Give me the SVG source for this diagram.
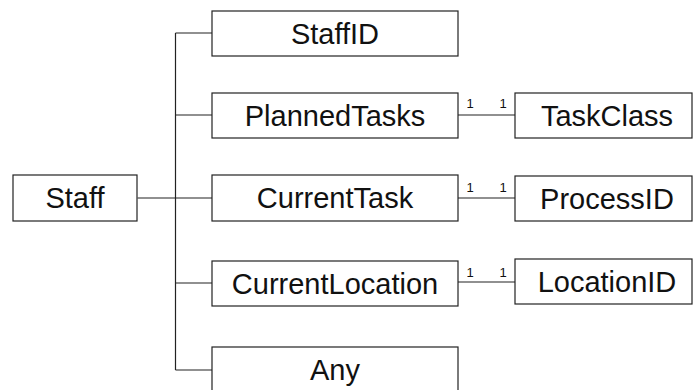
<svg xmlns="http://www.w3.org/2000/svg" width="693" height="390" viewBox="0 0 693 390">
<style>
.box{fill:#fff;stroke:#222;stroke-width:1.2}
.t{font-family:"Liberation Sans",Arial,sans-serif;font-size:29px;fill:#111;text-anchor:middle}
.m{font-family:"Liberation Sans",Arial,sans-serif;font-size:13px;fill:#111;text-anchor:middle}
.c{stroke:#222;stroke-width:1.2;fill:none}
</style>
<rect width="693" height="390" fill="#fff"/>
<g id="connectors">
<path class="c" d="M137.5 198H175.5M175.5 33V370M175.5 33H212M175.5 115H212M175.5 198H212M175.5 283H212M175.5 370H212"/>
<path class="c" d="M458 115H515M458 198H515M458 282H515"/>
<text class="m" x="470" y="108">1</text><text class="m" x="503" y="108">1</text>
<text class="m" x="470" y="192">1</text><text class="m" x="503" y="192">1</text>
<text class="m" x="470" y="277">1</text><text class="m" x="503" y="277">1</text>
</g>
<g id="staff"><rect class="box" x="13" y="175" width="124" height="46"/><text class="t" x="75" y="208">Staff</text></g>
<g id="staffid"><rect class="box" x="212" y="11" width="246" height="45"/><text class="t" x="335" y="44">StaffID</text></g>
<g id="plannedtasks"><rect class="box" x="212" y="93" width="246" height="45"/><text class="t" x="335" y="126">PlannedTasks</text></g>
<g id="currenttask"><rect class="box" x="212" y="175" width="246" height="46"/><text class="t" x="335" y="208">CurrentTask</text></g>
<g id="currentlocation"><rect class="box" x="212" y="261" width="246" height="45"/><text class="t" x="335" y="294">CurrentLocation</text></g>
<g id="any"><rect class="box" x="212" y="347" width="246" height="45"/><text class="t" x="335" y="380">Any</text></g>
<g id="taskclass"><rect class="box" x="515" y="93" width="177" height="45"/><text class="t" x="607" y="126">TaskClass</text></g>
<g id="processid"><rect class="box" x="515" y="176" width="177" height="45"/><text class="t" x="607" y="209">ProcessID</text></g>
<g id="locationid"><rect class="box" x="515" y="259" width="177" height="45"/><text class="t" x="607" y="292">LocationID</text></g>
</svg>
